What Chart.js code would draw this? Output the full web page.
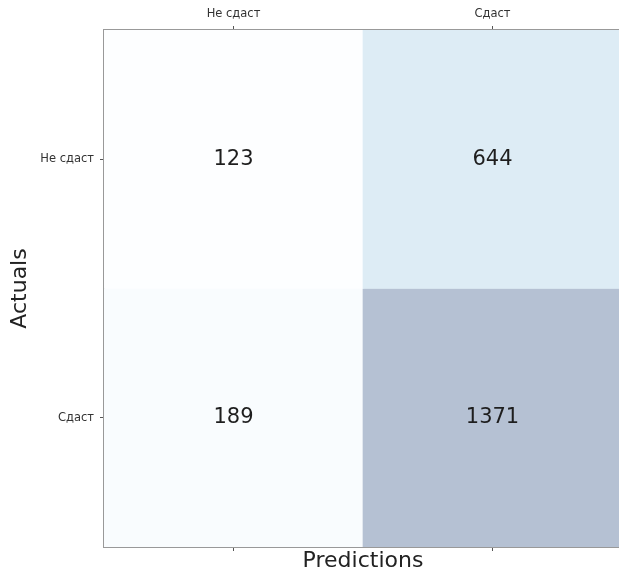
<!DOCTYPE html>
<html>
<head>
<meta charset="utf-8">
<script src="https://cdn.jsdelivr.net/npm/chart.js@4"></script>
<style>
  html, body { margin: 0; padding: 0; background: #fff; overflow: hidden; }
  #wrap { width: 640px; height: 573px; position: relative; }
</style>
</head>
<body>
<div id="wrap"><canvas id="cm"></canvas></div>
<script>
// Class labels (rows = actual, columns = predicted)
const classLabels = ['Не сдаст', 'Сдаст'];
// Confusion-matrix counts, one array per actual class
const rowNotPass = [123, 644];
const rowPass = [189, 1371];
const matrix = [rowNotPass, rowPass];

const allValues = matrix.flat();
const vMin = Math.min(...allValues);
const vMax = Math.max(...allValues);

// Blues colour ramp, laid over white at 30% opacity
const blues = [[247,251,255],[222,235,247],[198,219,239],[158,202,225],[107,174,214],
               [66,146,198],[33,113,181],[8,81,156],[8,48,107]];
function cellColor(v) {
  const t = (v - vMin) / (vMax - vMin);
  const pos = t * (blues.length - 1);
  const i = Math.min(Math.floor(pos), blues.length - 2);
  const f = pos - i;
  const c = blues[i].map((a, k) => a + (blues[i + 1][k] - a) * f);
  const mix = c.map(a => Math.round(255 * 0.7 + a * 0.3));
  return `rgb(${mix[0]},${mix[1]},${mix[2]})`;
}

// Each row becomes a floating-bar dataset spanning one unit on the y scale
const nRows = matrix.length;
const datasets = matrix.map((row, r) => ({
  label: classLabels[r],
  data: row.map(() => [nRows - r - 1, nRows - r]),
  counts: row,
  backgroundColor: row.map(cellColor),
  borderWidth: 0,
  barPercentage: 1,
  categoryPercentage: 1,
  grouped: false
}));

// Writes each count in the middle of its cell
const cellText = {
  id: 'cellText',
  afterDatasetsDraw(chart) {
    const ctx = chart.ctx;
    ctx.save();
    ctx.font = '21px "DejaVu Sans"';
    ctx.fillStyle = '#1e1e1e';
    ctx.textAlign = 'center';
    ctx.textBaseline = 'middle';
    chart.data.datasets.forEach((ds, di) => {
      chart.getDatasetMeta(di).data.forEach((bar, i) => {
        const cy = (bar.y + bar.base) / 2;
        ctx.fillText(String(ds.counts[i]), bar.x, cy);
      });
    });
    ctx.restore();
  }
};

const spine = { display: true, color: '#999999', width: 2 };
const tickGrid = { display: true, drawOnChartArea: false, drawTicks: true, tickLength: 4,
                   color: '#555', lineWidth: 1, offset: false };
const tickFont = { family: '"DejaVu Sans"', size: 11.5 };

new Chart(document.getElementById('cm'), {
  type: 'bar',
  data: { labels: classLabels, datasets },
  options: {
    responsive: true,
    maintainAspectRatio: false,
    animation: false,
    layout: { padding: { left: 0, top: 0, right: 18, bottom: 0 } },
    plugins: { legend: { display: false }, tooltip: { enabled: false } },
    scales: {
      x: {
        type: 'category',
        position: 'top',
        offset: true,
        grid: tickGrid,
        border: spine,
        ticks: { font: tickFont, color: '#333', padding: 5, maxRotation: 0 },
        afterFit(s) { s.height = 30; }
      },
      xb: {
        type: 'category',
        labels: classLabels,
        position: 'bottom',
        offset: true,
        grid: tickGrid,
        border: spine,
        ticks: { font: tickFont, callback: () => '' },
        title: { display: true, text: 'Predictions', color: '#222',
                 font: { family: '"DejaVu Sans"', size: 22, lineHeight: 1 },
                 padding: { top: 0, bottom: 1 } },
        afterFit(s) { s.height = 26; }
      },
      y: {
        type: 'linear',
        min: 0,
        max: nRows,
        grid: tickGrid,
        border: spine,
        afterBuildTicks(s) {
          s.ticks = classLabels.map((_, r) => ({ value: nRows - r - 0.5 }));
        },
        ticks: {
          font: tickFont, color: '#333', padding: 6,
          callback: (v) => classLabels[nRows - 1 - Math.floor(v)]
        },
        title: { display: true, text: 'Actuals', color: '#222',
                 font: { family: '"DejaVu Sans"', size: 22, lineHeight: 1 },
                 padding: { top: 9, bottom: 0 } },
        afterFit(s) { s.width = 104; }
      }
    }
  },
  plugins: [cellText]
});
</script>
</body>
</html>
